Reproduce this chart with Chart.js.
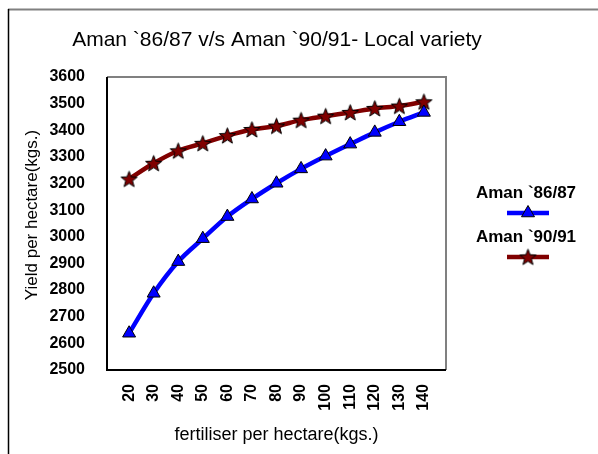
<!DOCTYPE html>
<html>
<head>
<meta charset="utf-8">
<script src="https://cdn.jsdelivr.net/npm/chart.js@4/dist/chart.umd.min.js"></script>
<style>
html,body{margin:0;padding:0;background:#fff;}
canvas{display:block;}
</style>
</head>
<body>
<canvas id="c" width="598" height="454"></canvas>
<script>
// ---- data ----
const chartTitle = "Aman `86/87 v/s Aman `90/91- Local variety";
const xAxisTitle = "fertiliser per hectare(kgs.)";
const yAxisTitle = "Yield per hectare(kgs.)";
const categories = [20, 30, 40, 50, 60, 70, 80, 90, 100, 110, 120, 130, 140];
const seriesNames = ["Aman `86/87", "Aman `90/91"];
const aman8687 = [2638, 2788, 2907, 2993, 3076, 3142, 3201, 3255, 3303, 3348, 3392, 3432, 3467];
const aman9091 = [3217, 3276, 3323, 3351, 3380, 3403, 3416, 3438, 3453, 3467, 3482, 3491, 3507];
const yTickValues = [2500, 2600, 2700, 2800, 2900, 3000, 3100, 3200, 3300, 3400, 3500, 3600];

const FONT = "'Liberation Sans', Arial, sans-serif";

// star marker image
function makeStar(size, fill) {
  const c = document.createElement('canvas');
  c.width = size; c.height = size;
  const g = c.getContext('2d');
  const cx = size / 2, cy = size / 2 + 0.7, R = size / 2 - 1, r = R * 0.42;
  g.beginPath();
  for (let i = 0; i < 10; i++) {
    const rad = (i % 2 === 0) ? R : r;
    const a = -Math.PI / 2 + i * Math.PI / 5;
    const px = cx + rad * Math.cos(a), py = cy + rad * Math.sin(a);
    if (i === 0) g.moveTo(px, py); else g.lineTo(px, py);
  }
  g.closePath();
  g.fillStyle = fill; g.fill();
  g.lineWidth = 1; g.strokeStyle = '#000'; g.stroke();
  return c;
}
const starImg = makeStar(19, '#800000');

const toXY = (arr) => arr.map((v, i) => ({ x: categories[i], y: v }));

const decorPlugin = {
  id: 'decor',
  beforeDatasetsDraw(chart) {
    const { ctx, chartArea: a } = chart;
    ctx.save();
    // outer frame
    ctx.strokeStyle = '#808080'; ctx.lineWidth = 2;
    ctx.beginPath(); ctx.moveTo(8, 9.5); ctx.lineTo(598, 9.5); ctx.stroke();
    ctx.strokeStyle = '#000'; ctx.lineWidth = 1.5;
    ctx.beginPath(); ctx.moveTo(8.5, 9); ctx.lineTo(8.5, 454); ctx.stroke();
    // plot frame
    ctx.strokeStyle = '#808080'; ctx.lineWidth = 2;
    ctx.beginPath(); ctx.moveTo(a.left, a.top); ctx.lineTo(a.right, a.top); ctx.lineTo(a.right, a.bottom); ctx.stroke();
    ctx.strokeStyle = '#000'; ctx.lineWidth = 2;
    ctx.beginPath(); ctx.moveTo(a.left, a.top); ctx.lineTo(a.left, a.bottom); ctx.lineTo(a.right, a.bottom); ctx.stroke();
    // y axis title
    ctx.fillStyle = '#000';
    ctx.font = '17px ' + FONT;
    ctx.textAlign = 'center'; ctx.textBaseline = 'middle';
    ctx.translate(32, 215);
    ctx.rotate(-Math.PI / 2);
    ctx.fillText(yAxisTitle, 0, 0);
    ctx.restore();
  },
  afterDraw(chart) {
    const { ctx } = chart;
    ctx.save();
    // title
    ctx.fillStyle = '#000';
    ctx.font = '21px ' + FONT;
    ctx.textAlign = 'center'; ctx.textBaseline = 'middle';
    ctx.fillText(chartTitle, 277, 40);
    // legend
    const lx = 528;
    const rows = [193, 237];
    chart.data.datasets.forEach((ds, i) => {
      const ty = rows[i];
      ctx.font = 'bold 17px ' + FONT;
      ctx.fillStyle = '#000';
      ctx.textAlign = 'center'; ctx.textBaseline = 'middle';
      ctx.fillText(ds.label, 526, ty);
      const ly = ty + 20;
      ctx.strokeStyle = ds.borderColor; ctx.lineWidth = ds.borderWidth;
      ctx.beginPath(); ctx.moveTo(507, ly); ctx.lineTo(549, ly); ctx.stroke();
      ctx.fillStyle = ds.pointBackgroundColor;
      ctx.strokeStyle = ds.pointBorderColor;
      ctx.lineWidth = ds.pointBorderWidth;
      Chart.helpers.drawPoint(ctx, { pointStyle: ds.pointStyle, radius: ds.pointRadius, rotation: 0, borderWidth: ds.pointBorderWidth }, lx, ly);
    });
    ctx.restore();
  }
};

new Chart(document.getElementById('c'), {
  type: 'line',
  data: {
    datasets: [
      {
        label: seriesNames[0],
        data: toXY(aman8687),
        borderColor: '#0000FF',
        borderWidth: 4.5,
        cubicInterpolationMode: 'monotone',
        pointStyle: 'triangle',
        pointRadius: 7.5,
        pointBackgroundColor: '#0000FF',
        pointBorderColor: '#000',
        pointBorderWidth: 1
      },
      {
        label: seriesNames[1],
        data: toXY(aman9091),
        borderColor: '#800000',
        borderWidth: 4.5,
        cubicInterpolationMode: 'monotone',
        pointStyle: starImg,
        pointRadius: 9,
        pointBackgroundColor: '#800000',
        pointBorderColor: '#000',
        pointBorderWidth: 1
      }
    ]
  },
  options: {
    responsive: false,
    animation: false,
    devicePixelRatio: 1,
    layout: { padding: { top: 77, right: 152, left: 0, bottom: 0 } },
    plugins: { legend: { display: false }, title: { display: false }, tooltip: { enabled: false } },
    scales: {
      x: {
        type: 'linear',
        min: 11, max: 149,
        grid: { display: false, drawTicks: false, tickLength: 0 },
        border: { display: false },
        afterBuildTicks: (s) => { s.ticks = categories.map(v => ({ value: v })); },
        afterFit: (s) => { s.height = 84; },
        ticks: {
          color: '#000',
          font: { family: FONT, size: 16, weight: 'bold' },
          minRotation: 90, maxRotation: 90,
          padding: 14,
          autoSkip: false,
          callback: (v) => String(v)
        },
        title: {
          display: true,
          text: xAxisTitle,
          color: '#000',
          font: { family: FONT, size: 18 },
          padding: { top: 0, bottom: 8 }
        }
      },
      y: {
        min: 2500, max: 3600,
        grid: { display: false },
        border: { display: false },
        afterBuildTicks: (s) => { s.ticks = yTickValues.map(v => ({ value: v })); },
        afterFit: (s) => { s.width = 107; },
        ticks: {
          color: '#000',
          font: { family: FONT, size: 16, weight: 'bold' },
          padding: 14,
          callback: (v) => String(v)
        },
        title: { display: false }
      }
    }
  },
  plugins: [decorPlugin]
});
</script>
</body>
</html>
